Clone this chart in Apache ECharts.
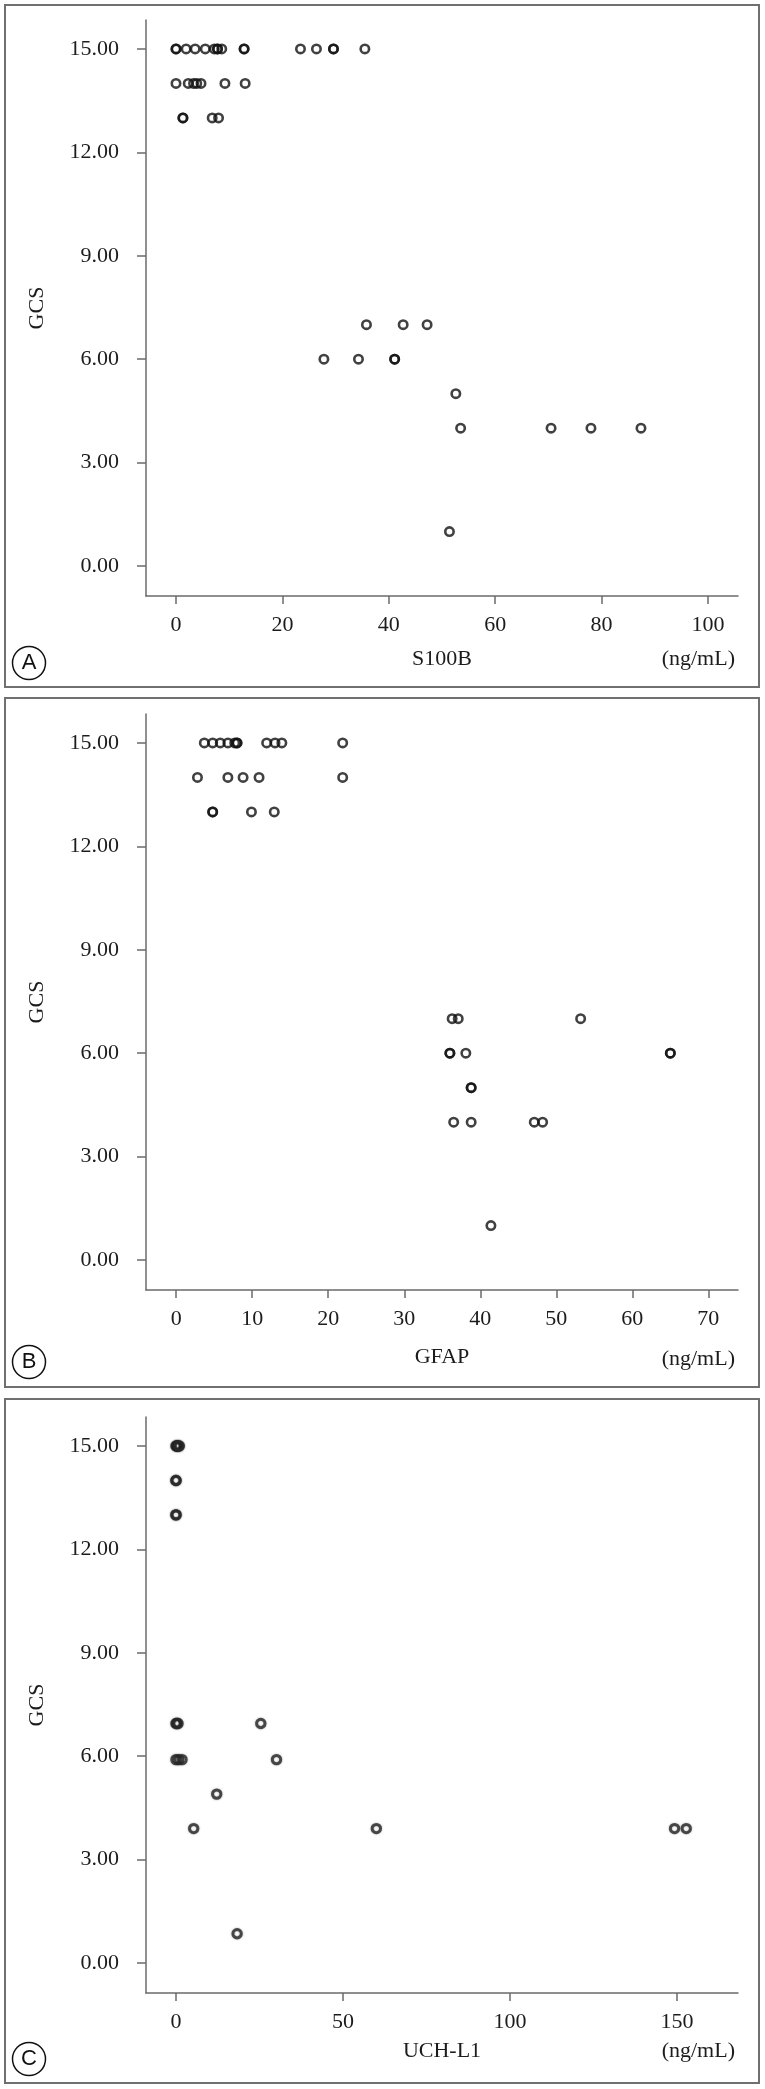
<!DOCTYPE html>
<html><head><meta charset="utf-8">
<script src="https://cdn.jsdelivr.net/npm/echarts@6/dist/echarts.min.js"></script>
<style>html,body{margin:0;padding:0;background:#fff}#c{width:765px;height:2089px}</style>
</head><body><div id="c"></div>
<script>
// ---- tick labels ----
const gcsTicks = [0, 3, 6, 9, 12, 15];
const s100bTicks = [0, 20, 40, 60, 80, 100];
const gfapTicks = [0, 10, 20, 30, 40, 50, 60, 70];
const uchl1Ticks = [0, 50, 100, 150];

// ---- Panel A: S100B (ng/mL) vs GCS ----
const s100bValues = [0, 0, 1.9, 3.6, 5.5, 7.2, 7.8, 7.8, 8.6, 12.8, 12.8, 23.4, 26.4, 29.6, 29.6, 35.5,
  0, 2.3, 3.3, 3.9, 4.7, 9.2, 13.0,
  1.3, 1.3, 6.8, 8.0,
  35.8, 42.7, 47.2,
  27.8, 34.3, 41.1, 41.1,
  52.6,
  53.5, 70.5, 78.0, 87.4,
  51.4];
const s100bGCS = [15, 15, 15, 15, 15, 15, 15, 15, 15, 15, 15, 15, 15, 15, 15, 15,
  14, 14, 14, 14, 14, 14, 14,
  13, 13, 13, 13,
  7, 7, 7,
  6, 6, 6, 6,
  5,
  4, 4, 4, 4,
  1];

// ---- Panel B: GFAP (ng/mL) vs GCS ----
const gfapValues = [3.7, 4.8, 5.8, 6.8, 7.7, 8.0, 8.0, 11.9, 13.0, 13.9, 21.9,
  2.8, 6.8, 8.8, 10.9, 21.9,
  4.8, 4.8, 9.9, 12.9,
  36.3, 37.1, 53.2,
  36.0, 36.0, 38.1, 65.0, 65.0,
  38.8, 38.8,
  36.5, 38.8, 47.1, 48.2,
  41.4];
const gfapGCS = [15, 15, 15, 15, 15, 15, 15, 15, 15, 15, 15,
  14, 14, 14, 14, 14,
  13, 13, 13, 13,
  7, 7, 7,
  6, 6, 6, 6, 6,
  5, 5,
  4, 4, 4, 4,
  1];

// ---- Panel C: UCH-L1 (ng/mL) vs GCS ----
const uchl1Values = [0, 0.2, 0.5, 0.8, 1.0,
  0, 0,
  0, 0,
  0, 0.3, 0.6, 25.4,
  0, 0.8, 1.8, 30.1,
  12.2,
  5.3, 60.0, 149.3, 152.8,
  18.3];
const uchl1GCS = [15, 15, 15, 15, 15,
  14, 14,
  13, 13,
  6.95, 6.95, 6.95, 6.95,
  5.9, 5.9, 5.9, 5.9,
  4.9,
  3.9, 3.9, 3.9, 3.9,
  0.85];

const zip = (xs, ys) => xs.map((x, i) => [x, ys[i]]);

const SERIF = '"Liberation Serif", "Times New Roman", serif';
const SANS = '"Liberation Sans", Arial, sans-serif';
const AXIS_COLOR = '#6b6b6b';
const TEXT_COLOR = '#1c1c1c';

const panels = [
  { top: 20,   xMin: -5.64, xMax: 105.64, xTicks: s100bTicks, name: 'S100B',  data: zip(s100bValues, s100bGCS), letter: 'A', box: [5, 5, 754, 682],    labY: 659,  circY: 663,  nameGap: 52, soft: false },
  { top: 714,  xMin: -3.97, xMax: 73.9,   xTicks: gfapTicks,  name: 'GFAP',   data: zip(gfapValues, gfapGCS),   letter: 'B', box: [5, 698, 754, 689],  labY: 1359, circY: 1362, nameGap: 56, soft: false },
  { top: 1417, xMin: -8.98, xMax: 168.3,  xTicks: uchl1Ticks, name: 'UCH-L1', data: zip(uchl1Values, uchl1GCS), letter: 'C', box: [5, 1399, 754, 684], labY: 2051, circY: 2059, nameGap: 47, soft: true }
];

const option = {
  animation: false,
  backgroundColor: '#fff',
  grid: panels.map(p => ({ left: 146, width: 592, top: p.top, height: 576, containLabel: false })),
  xAxis: panels.map((p, i) => ({
    type: 'value', gridIndex: i, min: p.xMin, max: p.xMax,
    name: p.name, nameLocation: 'middle', nameGap: p.nameGap,
    nameTextStyle: { fontFamily: SERIF, fontSize: 22, color: TEXT_COLOR },
    axisLine: { show: true, onZero: false, lineStyle: { color: AXIS_COLOR, width: 1.5 } },
    axisTick: { show: true, inside: false, length: 8, customValues: p.xTicks, lineStyle: { color: AXIS_COLOR, width: 1.5 } },
    axisLabel: { show: true, margin: 18, customValues: p.xTicks, fontFamily: SERIF, fontSize: 22, color: TEXT_COLOR },
    splitLine: { show: false }
  })),
  yAxis: panels.map((p, i) => ({
    type: 'value', gridIndex: i, min: -0.87, max: 15.84,
    name: 'GCS', nameLocation: 'middle', nameGap: 98, nameRotate: 90,
    nameTextStyle: { fontFamily: SERIF, fontSize: 22, color: TEXT_COLOR },
    axisLine: { show: true, onZero: false, lineStyle: { color: AXIS_COLOR, width: 1.5 } },
    axisTick: { show: true, inside: false, length: 9, customValues: gcsTicks, lineStyle: { color: AXIS_COLOR, width: 1.5 } },
    axisLabel: { show: true, margin: 27, customValues: gcsTicks, formatter: v => Number(v).toFixed(2), fontFamily: SERIF, fontSize: 22, color: TEXT_COLOR },
    splitLine: { show: false }
  })),
  series: panels.map((p, i) => ({
    type: 'scatter', xAxisIndex: i, yAxisIndex: i, data: p.data,
    symbol: 'circle', symbolSize: 8.4,
    itemStyle: p.soft
      ? { color: 'rgba(0,0,0,0)', borderColor: '#2a2a2a', borderWidth: 3, shadowBlur: 2, shadowColor: 'rgba(0,0,0,0.45)' }
      : { color: 'rgba(0,0,0,0)', borderColor: '#111', borderWidth: 2.6 },
    emphasis: { disabled: true }
  })),
  graphic: panels.flatMap(p => [
    { type: 'rect', shape: { x: p.box[0], y: p.box[1], width: p.box[2], height: p.box[3] }, style: { fill: 'none', stroke: '#707070', lineWidth: 2 }, silent: true },
    { type: 'circle', shape: { cx: 29, cy: p.circY, r: 16.5 }, style: { fill: '#fff', stroke: '#111', lineWidth: 1.5 }, silent: true },
    { type: 'text', x: 29, y: p.circY, style: { text: p.letter, fontFamily: SANS, fontSize: 22, fill: '#111', align: 'center', verticalAlign: 'middle' }, silent: true },
    { type: 'text', x: 735, y: p.labY, style: { text: '(ng/mL)', fontFamily: SERIF, fontSize: 22, fill: TEXT_COLOR, align: 'right', verticalAlign: 'middle' }, silent: true }
  ])
};

const chart = echarts.init(document.getElementById('c'), null, { renderer: 'canvas', width: 765, height: 2089 });
chart.setOption(option);
</script>
</body></html>
